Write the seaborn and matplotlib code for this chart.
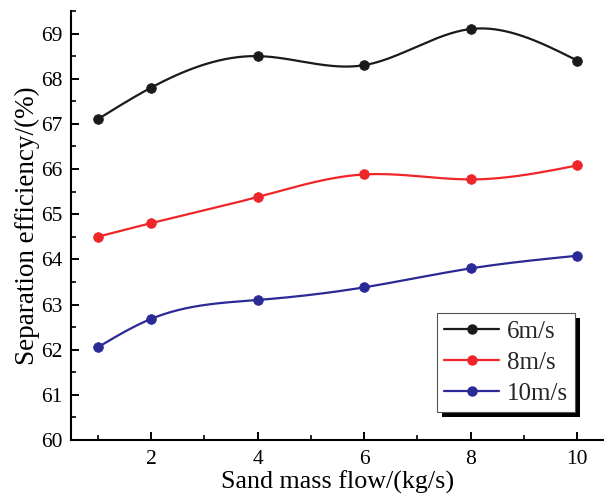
import numpy as np
import pandas as pd
import matplotlib
matplotlib.use("Agg")
import matplotlib.pyplot as plt
import seaborn as sns
from matplotlib.lines import Line2D
from matplotlib.patches import Rectangle
from matplotlib.ticker import MultipleLocator

# ---- data ----
sand_flow = [1, 2, 4, 6, 8, 10]
eff_6 = [67.1, 67.8, 68.5, 68.3, 69.1, 68.4]
eff_8 = [64.5, 64.8, 65.38, 65.88, 65.77, 66.08]
eff_10 = [62.05, 62.68, 63.1, 63.38, 63.8, 64.08]
series_labels = ["6m/s", "8m/s", "10m/s"]
series_colors = ["#1a1a1a", "#f0252a", "#2a2a96"]
x_ticks = [2, 4, 6, 8, 10]
y_ticks = [60, 61, 62, 63, 64, 65, 66, 67, 68, 69]

SERIF = ["Liberation Serif", "DejaVu Serif"]


def natural_spline(x, y, n=400):
    x = np.asarray(x, float)
    y = np.asarray(y, float)
    k = len(x)
    h = np.diff(x)
    A = np.zeros((k, k))
    b = np.zeros(k)
    A[0, 0] = A[-1, -1] = 1
    for i in range(1, k - 1):
        A[i, i - 1] = h[i - 1]
        A[i, i] = 2 * (h[i - 1] + h[i])
        A[i, i + 1] = h[i]
        b[i] = 6 * ((y[i + 1] - y[i]) / h[i] - (y[i] - y[i - 1]) / h[i - 1])
    M = np.linalg.solve(A, b)
    xs = np.linspace(x[0], x[-1], n)
    idx = np.clip(np.searchsorted(x, xs) - 1, 0, k - 2)
    x0, x1 = x[idx], x[idx + 1]
    hh = x1 - x0
    t0, t1 = x1 - xs, xs - x0
    ys = (M[idx] * t0**3 + M[idx + 1] * t1**3) / (6 * hh) \
        + (y[idx] / hh - M[idx] * hh / 6) * t0 \
        + (y[idx + 1] / hh - M[idx + 1] * hh / 6) * t1
    return xs, ys


sns.set_theme(style="ticks")
plt.rcParams["font.family"] = SERIF
plt.rcParams["font.serif"] = SERIF
plt.rcParams["mathtext.fontset"] = "stix"

fig = plt.figure(figsize=(6.04, 4.98), dpi=100)
ax = fig.add_axes([0.1175, 0.1165, 0.8825, 0.8615])

handles = []
for lab, ys, col in zip(series_labels, [eff_6, eff_8, eff_10], series_colors):
    xs_s, ys_s = natural_spline(sand_flow, ys)
    sns.lineplot(x=xs_s, y=ys_s, ax=ax, color=col, linewidth=1.6, zorder=2)
    sns.scatterplot(x=sand_flow, y=ys, ax=ax, color=col, s=48,
                    edgecolor=col, linewidth=0.6, zorder=3)
    handles.append(Line2D([0], [0], color=col, lw=1.6, marker="o",
                          markersize=6.5, markerfacecolor=col, markeredgecolor=col))

ax.set_xlim(0.5, 10.5)
ax.set_ylim(60, 69.5)
ax.set_xticks(x_ticks)
ax.set_xticklabels([str(t) for t in x_ticks], fontfamily=SERIF)
ax.set_yticks(y_ticks)
ax.set_yticklabels([str(t) for t in y_ticks], fontfamily=SERIF)
ax.xaxis.set_minor_locator(MultipleLocator(1))
ax.yaxis.set_minor_locator(MultipleLocator(0.5))
ax.tick_params(which="major", direction="in", length=6, width=1.4,
               labelsize=15.5, color="black", labelcolor="black", pad=6)
ax.tick_params(axis="x", which="major", pad=7.5)
ax.tick_params(which="minor", direction="in", length=3.5, width=1.2, color="black")
for s in ["top", "right"]:
    ax.spines[s].set_visible(False)
for s in ["left", "bottom"]:
    ax.spines[s].set_linewidth(1.5)
    ax.spines[s].set_color("black")

ax.set_xlabel("Sand mass flow/(kg/s)", fontsize=18.7, color="black", labelpad=1,
              fontfamily=SERIF)
ax.set_ylabel("Separation efficiency/(%)", fontsize=19.5, color="black", labelpad=1,
              fontfamily=SERIF)

leg = ax.legend(handles, series_labels, loc="lower right",
                bbox_to_anchor=(0.946, 0.065), borderaxespad=0,
                prop={"family": SERIF, "size": 18},
                handlelength=2.2, handletextpad=0.3,
                labelspacing=0.33, borderpad=0.3, frameon=True, fancybox=False)
leg.get_frame().set_edgecolor("#555555")
leg.get_frame().set_linewidth(0.8)
leg.get_frame().set_alpha(1)
leg.set_zorder(10)

fig.canvas.draw()
bb = leg.get_window_extent()
shadow = Rectangle((bb.x0 + 5, bb.y0 - 5), bb.width, bb.height, transform=None,
                   facecolor="black", edgecolor="none", zorder=9, clip_on=False)
ax.add_artist(shadow)

fig.savefig("out.png", dpi=100)
